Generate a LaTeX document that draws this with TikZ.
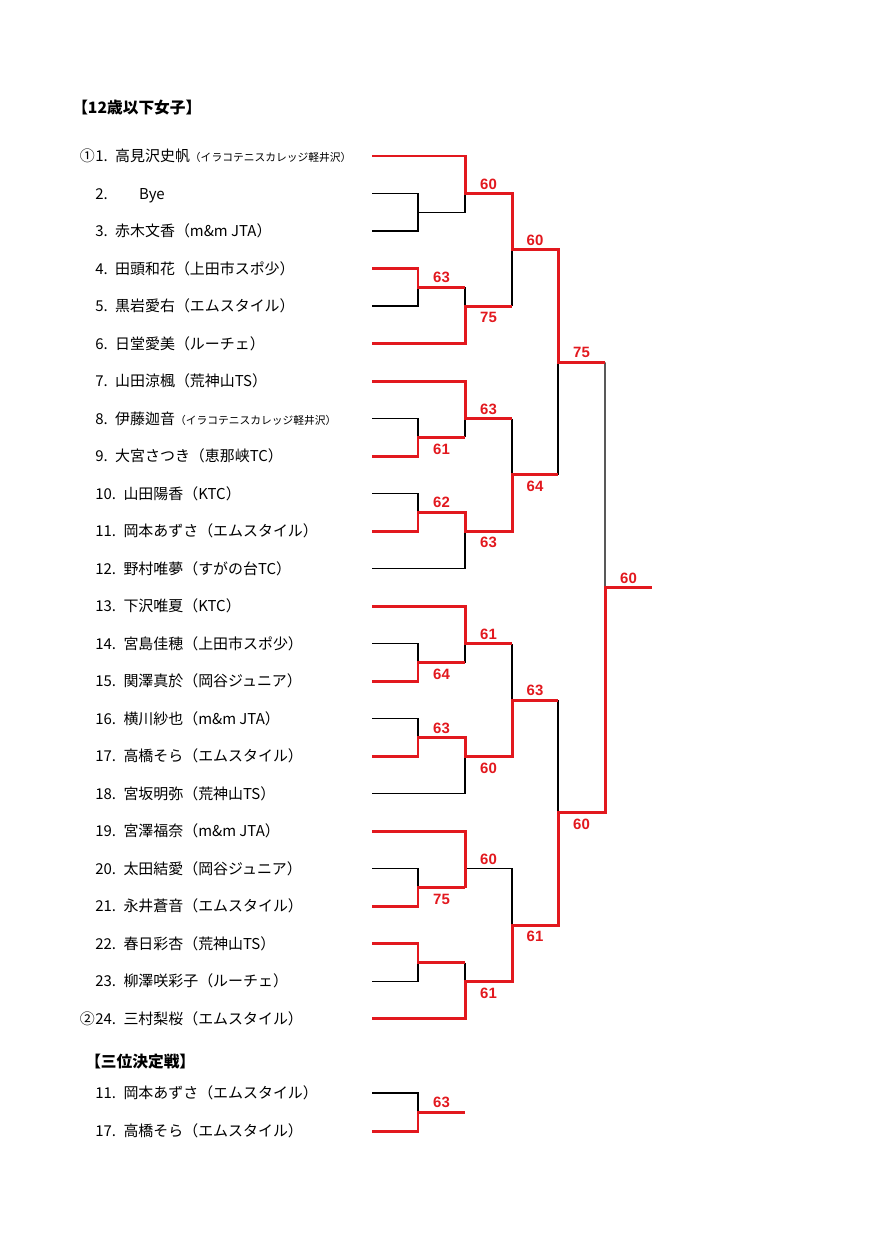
\documentclass[tikz,border=0pt]{standalone}
\usepackage{fontspec}
\setmainfont{Noto Sans CJK JP}
\newfontfamily\scorefont{Liberation Sans}
\usetikzlibrary{calc}
\definecolor{winred}{RGB}{226,24,30}
\newcommand\clubsmall{\fontsize{7.2}{8}\selectfont}
\tikzset{
  player/.style={anchor=base west, inner sep=0pt, font=\fontsize{10}{12}\selectfont},
  seed/.style={anchor=base east, inner sep=0pt, font=\fontsize{10}{12}\selectfont},
  heading/.style={anchor=base west, inner sep=0pt, font=\fontsize{10.5}{12}\selectfont\bfseries},
  win/.style={draw=winred, line width=2pt},
  lose/.style={draw=black, line width=0.8pt},
  scoreabove/.style={anchor=south, inner sep=0pt, yshift=2.7pt, text=winred,
                     font=\scorefont\bfseries\fontsize{10}{11}\selectfont},
  scorebelow/.style={anchor=north, inner sep=0pt, yshift=-4pt, text=winred,
                     font=\scorefont\bfseries\fontsize{10}{11}\selectfont}
}
\begin{document}
\begin{tikzpicture}[x=0.6689pt, y=-0.6689pt]
\useasboundingbox (0,0) rectangle (890,1259);
\node[heading] (title) at (72,113) {【12歳以下女子】};

% columns of the draw
\coordinate (c1) at (418,0);
\coordinate (c2) at (465,0);
\coordinate (c3) at (512,0);
\coordinate (c4) at (558,0);
\coordinate (c5) at (605,0);
\coordinate (c6) at (652,0);

\foreach [evaluate=\i as \y using 156+(\i-1)*37.52] \i/\who in {
  1/{高見沢史帆{\clubsmall（イラコテニスカレッジ軽井沢）}},
  2/{\hspace{16pt}Bye},
  3/{赤木文香（m\&m JTA）},
  4/{田頭和花（上田市スポ少）},
  5/{黒岩愛右（エムスタイル）},
  6/{日堂愛美（ルーチェ）},
  7/{山田涼楓（荒神山TS）},
  8/{伊藤迦音{\clubsmall（イラコテニスカレッジ軽井沢）}},
  9/{大宮さつき（恵那峡TC）},
  10/{山田陽香（KTC）},
  11/{岡本あずさ（エムスタイル）},
  12/{野村唯夢（すがの台TC）},
  13/{下沢唯夏（KTC）},
  14/{宮島佳穂（上田市スポ少）},
  15/{関澤真於（岡谷ジュニア）},
  16/{横川紗也（m\&m JTA）},
  17/{高橋そら（エムスタイル）},
  18/{宮坂明弥（荒神山TS）},
  19/{宮澤福奈（m\&m JTA）},
  20/{太田結愛（岡谷ジュニア）},
  21/{永井蒼音（エムスタイル）},
  22/{春日彩杏（荒神山TS）},
  23/{柳澤咲彩子（ルーチェ）},
  24/{三村梨桜（エムスタイル）}}{
  \coordinate (p\i) at (372,\y);
  \node[player] (n\i) at (95,\y+5.5) {\i.\enspace\who};
}
\node[seed] (s1) at (n1.base west) {①};
\node[seed] (s2) at (n24.base west) {②};

% match points
\coordinate (m23) at ($(p2 -| c1)!.5!(p3 -| c1)$);
\coordinate (m45) at ($(p4 -| c1)!.5!(p5 -| c1)$);
\coordinate (m89) at ($(p8 -| c1)!.5!(p9 -| c1)$);
\coordinate (m1011) at ($(p10 -| c1)!.5!(p11 -| c1)$);
\coordinate (m1415) at ($(p14 -| c1)!.5!(p15 -| c1)$);
\coordinate (m1617) at ($(p16 -| c1)!.5!(p17 -| c1)$);
\coordinate (m2021) at ($(p20 -| c1)!.5!(p21 -| c1)$);
\coordinate (m2223) at ($(p22 -| c1)!.5!(p23 -| c1)$);
\coordinate (sAB) at ($(p2 -| c3)!.5!(p5 -| c3)$);
\coordinate (sCD) at ($(p8 -| c3)!.5!(p11 -| c3)$);
\coordinate (sEF) at ($(p14 -| c3)!.5!(p17 -| c3)$);
\coordinate (sGH) at ($(p20 -| c3)!.5!(p23 -| c3)$);
\coordinate (qT) at ($(sAB -| c4)!.5!(sCD -| c4)$);
\coordinate (qB) at ($(sEF -| c4)!.5!(sGH -| c4)$);
\coordinate (fin) at ($(qT -| c5)!.5!(qB -| c5)$);

% losing lines
\draw[lose] (p2) -| (m23) |- (p3);
\draw[lose] (m23) -| (p2 -| c2);
\draw[lose] (p5) -| (m45);
\draw[lose] (m45 -| c2) -- (p5 -| c2);
\draw[lose] (sAB) -- (p5 -| c3);
\draw[lose] (p8) -| (m89);
\draw[lose] (p8 -| c2) -- (m89 -| c2);
\draw[lose] (p10) -| (m1011);
\draw[lose] (p12) -| (p11 -| c2);
\draw[lose] (p8 -| c3) -- (sCD);
\draw[lose] (qT) -- (sCD -| c4);
\draw[lose] (p14) -| (m1415);
\draw[lose] (p14 -| c2) -- (m1415 -| c2);
\draw[lose] (p14 -| c3) -- (sEF);
\draw[lose] (p16) -| (m1617);
\draw[lose] (p18) -| (p17 -| c2);
\draw[lose] (sEF -| c4) -- (qB);
\draw[lose] (p20) -| (m2021);
\draw[lose] (p20 -| c2) -| (sGH);
\draw[lose] (p23) -| (m2223);
\draw[lose] (m2223 -| c2) -- (p23 -| c2);
\draw[lose] (qT -| c5) -- (fin);

% winning lines
\draw[win] (p1) -| (p2 -| c2) -| (sAB) -| (qT) -- (qT -| c5);
\draw[win] (p4) -| (m45) -- (m45 -| c2);
\draw[win] (p6) -| (p5 -| c2) -- (p5 -| c3);
\draw[win] (p7) -| (p8 -| c2) -- (p8 -| c3);
\draw[win] (p9) -| (m89) -- (m89 -| c2);
\draw[win] (p11) -| (m1011) -| (p11 -| c2) -| (sCD) -- (sCD -| c4);
\draw[win] (p13) -| (p14 -| c2) -- (p14 -| c3);
\draw[win] (p15) -| (m1415) -- (m1415 -| c2);
\draw[win] (p17) -| (m1617) -| (p17 -| c2) -| (sEF) -- (sEF -| c4);
\draw[win] (p19) -| (m2021 -| c2);
\draw[win] (p21) -| (m2021) -- (m2021 -| c2);
\draw[win] (p22) -| (m2223) -- (m2223 -| c2);
\draw[win] (p24) -| (p23 -| c2) -| (sGH) -| (qB) -| (fin) -- (fin -| c6);

% scores
\foreach \pt/\ca/\cb/\side/\s in {
  p2/c2/c3/above/60, sAB/c3/c4/above/60, m45/c1/c2/above/63, p5/c2/c3/below/75,
  qT/c4/c5/above/75, p8/c2/c3/above/63, m89/c1/c2/below/61, m1011/c1/c2/above/62,
  p11/c2/c3/below/63, sCD/c3/c4/below/64, fin/c5/c6/above/60, p14/c2/c3/above/61,
  m1415/c1/c2/below/64, sEF/c3/c4/above/63, m1617/c1/c2/above/63, p17/c2/c3/below/60,
  qB/c4/c5/below/60, p20/c2/c3/above/60, m2021/c1/c2/below/75, sGH/c3/c4/below/61,
  p23/c2/c3/below/61}
  \node[score\side] at ($(\pt -| \ca)!.5!(\pt -| \cb)$) {\s};

% third place
\node[heading] (third) at (85,1067) {【三位決定戦】};
\coordinate (t1) at (372,1093);
\coordinate (t2) at (372,1131);
\coordinate (tm) at ($(t1 -| c1)!.5!(t2 -| c1)$);
\node[player] (u1) at (95,1098.5) {11.\enspace 岡本あずさ（エムスタイル）};
\node[player] (u2) at (95,1136.5) {17.\enspace 高橋そら（エムスタイル）};
\draw[lose] (t1) -| (tm);
\draw[win] (t2) -| (tm) -- (tm -| c2);
\node[scoreabove] at ($(tm)!.5!(tm -| c2)$) {63};
\end{tikzpicture}
\end{document}
